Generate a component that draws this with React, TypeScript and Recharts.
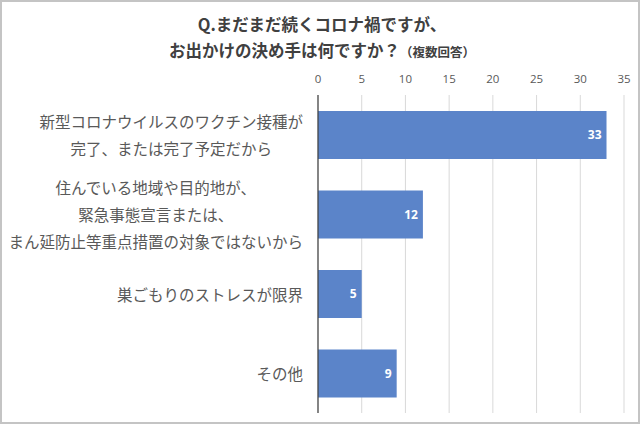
import React from "react";
import { BarChart, Bar, XAxis, YAxis, CartesianGrid, LabelList } from "recharts";

const categories: string[] = [
  "新型コロナウイルスのワクチン接種が\n完了、または完了予定だから",
  "住んでいる地域や目的地が、\n緊急事態宣言または、\nまん延防止等重点措置の対象ではないから",
  "巣ごもりのストレスが限界",
  "その他",
];
const values: number[] = [33, 12, 5, 9];
const xTicks: number[] = [0, 5, 10, 15, 20, 25, 30, 35];
const titleLine1 = "Q.まだまだ続くコロナ禍ですが、";
const titleLine2 = "お出かけの決め手は何ですか？";
const titleNote = "（複数回答）";

const data = categories.map((name, i) => ({ name, value: values[i] }));

const JP = '"Noto Sans CJK JP", "Noto Sans", sans-serif';
const FS = 15.5;
const LH = 27;

const CategoryTick = (props: any) => {
  const { x, y, payload } = props;
  const lines: string[] = String(payload.value).split("\n");
  const maxChars = Math.max(...lines.map((l) => l.length));
  const cx = x - (maxChars * FS) / 2;
  const startY = y - ((lines.length - 1) * LH) / 2;
  return (
    <g>
      {lines.map((l, i) => (
        <text
          key={i}
          x={cx}
          y={startY + i * LH}
          textAnchor="middle"
          dominantBaseline="central"
          fontSize={FS}
          fontFamily={JP}
          fill="#595959"
        >
          {l}
        </text>
      ))}
    </g>
  );
};

export default function App() {
  return (
    <div
      style={{
        position: "absolute",
        left: 0,
        top: 0,
        width: 640,
        height: 424,
        background: "#fff",
        boxSizing: "border-box",
        border: "2px solid #c4c4c4",
      }}
    >
      <div
        style={{
          position: "absolute",
          left: 0,
          top: 9,
          width: 640,
          textAlign: "center",
          fontFamily: JP,
          fontWeight: 700,
          fontSize: 16.5,
          color: "#404040",
          lineHeight: "26px",
          zIndex: 2,
        }}
      >
        <div>{titleLine1}</div>
        <div>
          {titleLine2}
          <span style={{ fontSize: 12.5 }}>{titleNote}</span>
        </div>
      </div>
      <div style={{ position: "absolute", left: -2, top: -2 }}>
        <BarChart
          width={640}
          height={424}
          data={data}
          layout="vertical"
          margin={{ top: 75, right: 16, bottom: 11, left: 0 }}
        >
          <CartesianGrid horizontal={false} stroke="#d9d9d9" />
          <XAxis
            type="number"
            orientation="top"
            domain={[0, 35]}
            ticks={xTicks}
            height={20}
            axisLine={false}
            tickLine={false}
            tickSize={0}
            tickMargin={12}
            tick={{ fontSize: 11.5, fill: "#595959", fontFamily: '"Open Sans", sans-serif' }}
          />
          <YAxis
            type="category"
            dataKey="name"
            width={318}
            axisLine={{ stroke: "#404040", strokeWidth: 1.2 }}
            tickLine={false}
            tickSize={0}
            tickMargin={15}
            tick={<CategoryTick />}
            interval={0}
          />
          <Bar dataKey="value" fill="#5b84c9" barSize={48} isAnimationActive={false}>
            <LabelList
              dataKey="value"
              position="insideRight"
              offset={5}
              fill="#ffffff"
              fontSize={12}
              fontWeight={700}
              fontFamily='"Open Sans", sans-serif'
            />
          </Bar>
        </BarChart>
      </div>
    </div>
  );
}
